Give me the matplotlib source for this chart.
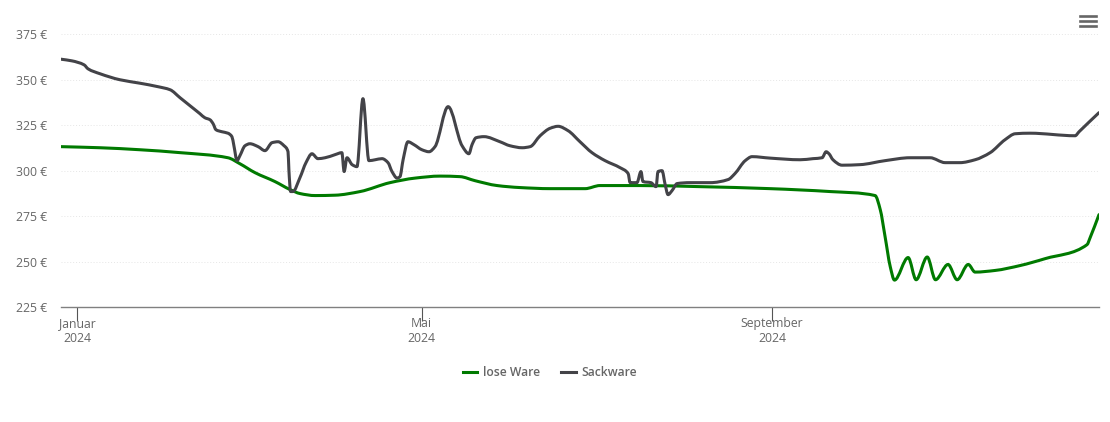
import numpy as np
import matplotlib.pyplot as plt
from matplotlib.lines import Line2D
from matplotlib.patches import PathPatch
from matplotlib.path import Path

# days since 1 Jan 2024, prices in euro
lose_days = [-5.6, 8.1, 22.1, 36.2, 53, 57.2, 62.5, 69.5, 74.8, 78.3, 83.6, 90.6, 99.4, 109.9, 118.7,
             127.5, 134.5, 139.7, 147.5, 155.5, 166.1, 178.4, 183.6, 197.7, 218.8, 243.3, 264.4, 280.2,
             282, 283.7, 285.5, 287, 291.8, 294.6, 298.5, 301.4, 305.8, 309, 312.9,
             315.3, 322.3, 331.1, 339.9, 354.6, 355.7, 358.8]
lose_price = [313.2, 312.6, 311.5, 309.9, 307.1, 303.8, 298.9, 294, 289.6, 287.4, 286.3, 286.5, 288.5, 293.4, 295.9,
              297, 296.7, 294.5, 291.8, 290.7, 290.1, 290.1, 291.8, 291.8, 291.2, 290.1, 288.5, 286.3,
              278.6, 263.7, 247.3, 239.8, 252.2, 240, 252.5, 240, 248.4, 240, 248.4,
              244.2, 245.1, 247.8, 251.6, 259.3, 263.2, 275.8]

sack_days = [-5.6, -1.8, 2.5, 3.9, 8.1, 15.1, 22.1, 28.4, 32.7, 36.2, 39.7, 43.2, 44.9, 46.7, 47.8, 48.8, 50.9, 53,
             54.4, 55.1, 56.2, 57.2, 59, 60.7, 63.6, 66, 68.5, 70.6, 72.7, 74.1, 74.4, 75, 75.8, 78.3, 80.4, 82.5,
             84.6, 87.1, 90.6, 93, 93.8, 94.8, 96.6, 98.3, 100.4, 102.5, 104.7, 107.1, 109.2,
             110.6, 112.4, 113.4, 114.5, 116.2, 118.3, 121.1, 123.6, 125.7, 130.3,
             135.2, 137.6, 138.7, 140.1, 142.9, 148.5, 152, 156.3, 159.1, 162.6, 166.1, 168.9, 172.4, 176.6,
             180.8, 185.4, 190.7, 193.5, 194.2, 196.6, 198, 198.7, 201.5, 203.3, 204, 205.4, 206.5, 207.5, 208.9,
             210.7, 215.2, 222.3, 228.6, 231, 234.6, 237, 243.3, 253.9, 258.4, 261.6, 263, 264, 265.4, 268.6,
             274.9, 283.7, 292.5, 299.5, 304.8, 310, 315.3, 320.6, 325.8, 329.4, 334.6, 350.4, 351.8, 358.8]
sack_price = [361.3, 360.4, 358.2, 356, 353.3, 350, 348.1, 346.2, 344.5, 340.1, 335.7, 331.3, 329.1, 328, 325.8, 322.5, 321.4, 320.6,
              318.7, 313.7, 305.5, 308.2, 313.7, 314.8, 313.2, 311, 315.4, 315.9, 313.7, 310.4, 300.5, 288.5, 288.5, 296.2, 304.4, 309.3,
              306.6, 307.1, 308.8, 309.9, 299.5, 307.1, 303.3, 302.2, 339.6, 305.5, 306, 306.6, 304.4,
              299.5, 295.9, 296.7, 306, 315.9, 314.3, 311.5, 310.4, 313.2, 335.2,
              313.7, 309.3, 314.3, 318.1, 318.7, 315.9, 313.7, 312.6, 313.2, 319.2, 323.3, 324.4, 322, 315.9,
              309.9, 305.5, 301.6, 298.4, 293.4, 293.4, 299.5, 294, 293.4, 291.2, 299.5, 300, 292.3, 286.8, 289,
              292.9, 293.4, 293.4, 295.1, 298.4, 305.5, 307.7, 306.9, 306, 306.6, 307.1, 310.4, 309.3, 306, 303,
              303.3, 305.5, 307.1, 307.1, 304.4, 304.4, 306, 309.9, 317, 320.3, 320.6, 319.2, 321.4, 331.9]

y_ticks = [225, 250, 275, 300, 325, 350, 375]
x_ticks = [0, 121, 244]
x_labels = ['Januar\n2024', 'Mai\n2024', 'September\n2024']

GREEN = '#007a00'
DARK = '#434348'
GREY = '#666666'


def spline_path(x, y):
    # bezier through the points, slopes limited so the peaks stay flat
    x = np.array(x, dtype=float)
    y = np.array(y, dtype=float)
    dx = np.diff(x)
    s = np.diff(y) / dx
    m = np.zeros(len(x))
    for i in range(1, len(x) - 1):
        if s[i - 1] * s[i] > 0:
            w1 = 2 * dx[i] + dx[i - 1]
            w2 = dx[i] + 2 * dx[i - 1]
            m[i] = (w1 + w2) / (w1 / s[i - 1] + w2 / s[i])
    m[0] = s[0]
    m[-1] = s[-1]
    verts = [(x[0], y[0])]
    codes = [Path.MOVETO]
    for i in range(len(dx)):
        verts.append((x[i] + dx[i] / 3, y[i] + m[i] * dx[i] / 3))
        verts.append((x[i + 1] - dx[i] / 3, y[i + 1] - m[i + 1] * dx[i] / 3))
        verts.append((x[i + 1], y[i + 1]))
        codes += [Path.CURVE4] * 3
    return Path(verts, codes)


plt.rcParams['font.family'] = ['Open Sans', 'DejaVu Sans']

W, H = 1110, 422
fig = plt.figure(figsize=(W / 100, H / 100), dpi=100)
ax = fig.add_axes([61 / W, 1 - 307 / H, (1099 - 61) / W, (307 - 34.3) / H])

ax.add_patch(PathPatch(spline_path(lose_days, lose_price), fc='none', ec=GREEN, lw=2.2, capstyle='round', joinstyle='round', zorder=3))
ax.add_patch(PathPatch(spline_path(sack_days, sack_price), fc='none', ec=DARK, lw=2.2, capstyle='round', joinstyle='round', zorder=4))

ax.set_xlim(-5.6, 358.8)
ax.set_ylim(225, 375)
ax.set_xticks(x_ticks)
ax.set_xticklabels(x_labels, fontsize=8.8, color=GREY, linespacing=1.2)
ax.set_yticks(y_ticks)
ax.set_yticklabels([f'{v} €' for v in y_ticks], fontsize=8.8, color=GREY)
ax.tick_params(axis='x', length=10, width=0.8, color='#555555', pad=-3)
ax.tick_params(axis='y', length=0, pad=10)
ax.grid(axis='y', ls=(0, (1, 2)), lw=0.7, color='#e6e6e6')
ax.set_axisbelow(True)
for side in ['top', 'right', 'left']:
    ax.spines[side].set_visible(False)
ax.spines['bottom'].set_color('#808080')
ax.spines['bottom'].set_linewidth(1)

handles = [Line2D([], [], color=GREEN, lw=2.2), Line2D([], [], color=DARK, lw=2.2)]
leg = fig.legend(handles, ['lose Ware', 'Sackware'], loc='center', bbox_to_anchor=(550 / W, 1 - 372.5 / H),
                 ncol=2, frameon=False, fontsize=8.75, handlelength=1.2, handletextpad=0.5, columnspacing=1.7)
for t in leg.get_texts():
    t.set_color(GREY)
    t.set_fontweight('semibold')

# menu icon
for py in [16.3, 21.3, 26.3]:
    fig.add_artist(Line2D([1080 / W, 1096 / W], [1 - py / H, 1 - py / H], color=GREY, lw=1.9))

fig.savefig('out.png', dpi=100)
